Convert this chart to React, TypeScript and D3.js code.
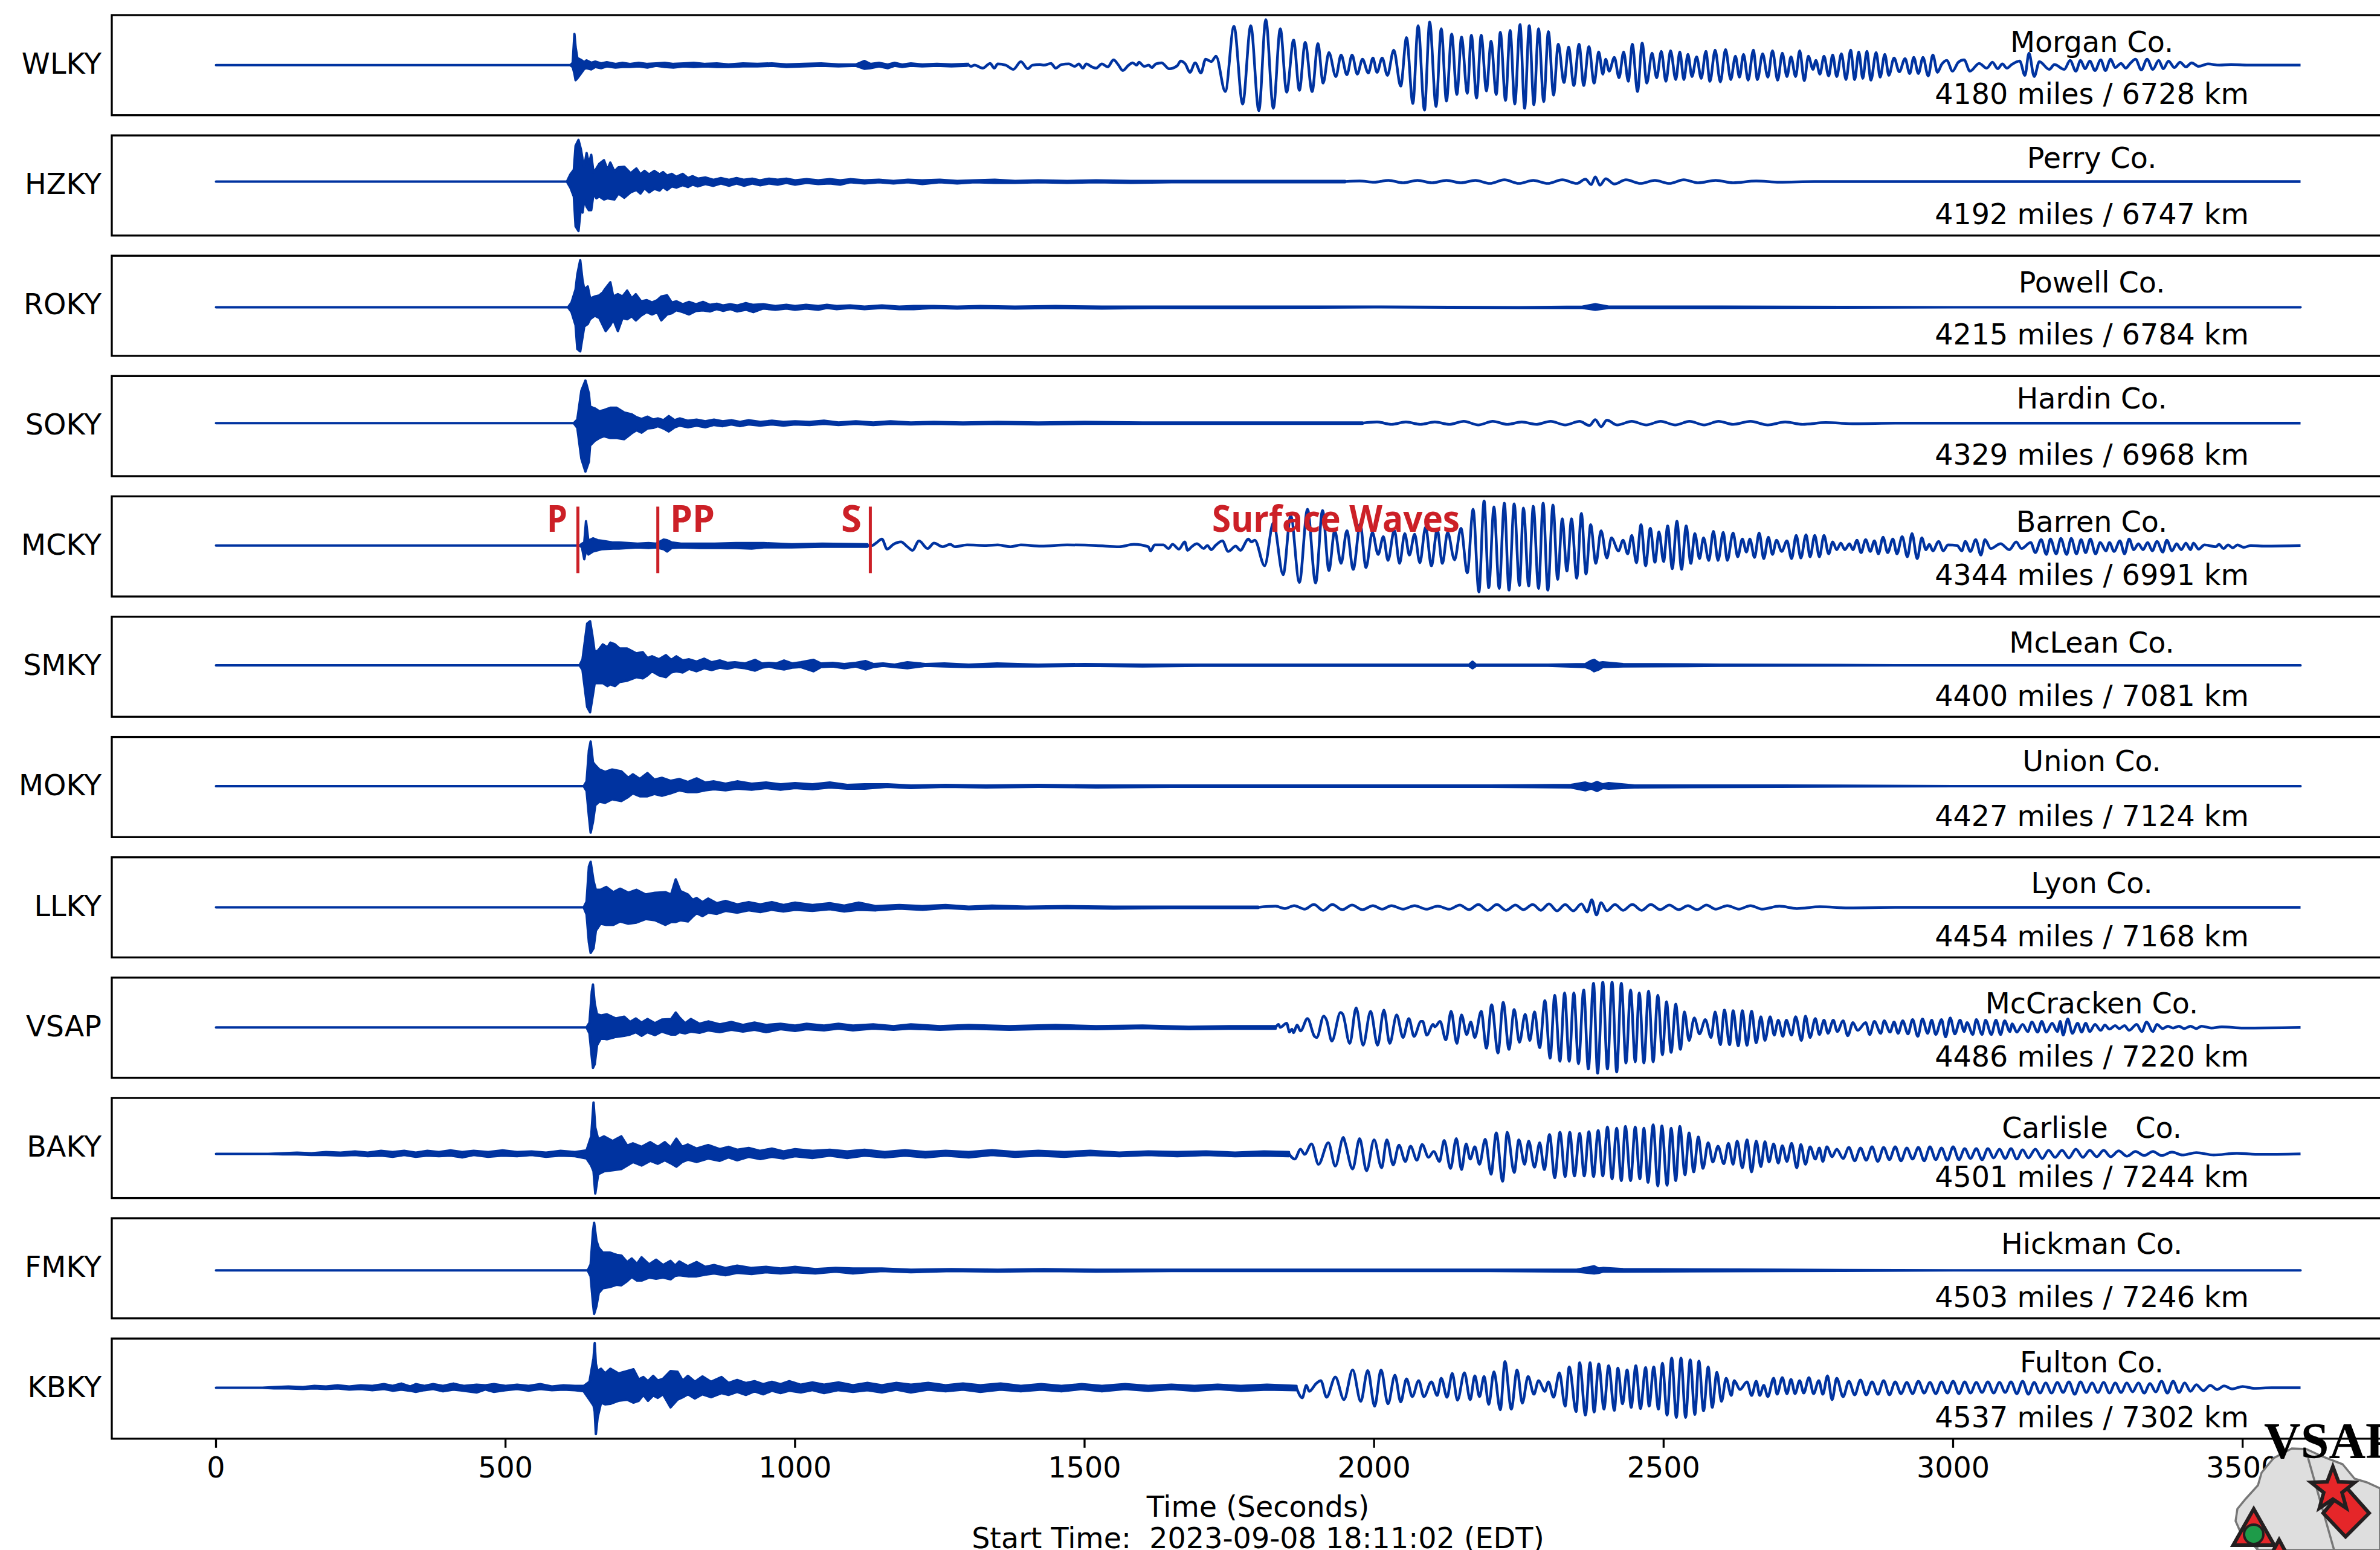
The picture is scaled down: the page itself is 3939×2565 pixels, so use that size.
import React from 'react';
import * as d3 from 'd3';

type Row = number[];

const stations = ["WLKY", "HZKY", "ROKY", "SOKY", "MCKY", "SMKY", "MOKY", "LLKY", "VSAP", "BAKY", "FMKY", "KBKY"];
const counties = ["Morgan Co.", "Perry Co.", "Powell Co.", "Hardin Co.", "Barren Co.", "McLean Co.", "Union Co.", "Lyon Co.", "McCracken Co.", "Carlisle   Co.", "Hickman Co.", "Fulton Co."];
const distances = ["4180 miles / 6728 km", "4192 miles / 6747 km", "4215 miles / 6784 km", "4329 miles / 6968 km", "4344 miles / 6991 km", "4400 miles / 7081 km", "4427 miles / 7124 km", "4454 miles / 7168 km", "4486 miles / 7220 km", "4501 miles / 7244 km", "4503 miles / 7246 km", "4537 miles / 7302 km"];
const xTicks = [0, 500, 1000, 1500, 2000, 2500, 3000, 3500];
const phases = [{ name: "P", t: 625 }, { name: "PP", t: 763 }, { name: "S", t: 1130 }];

// band = [time, upper, lower] envelope where the trace is too dense to see cycles
// wave = [time, value] peaks and troughs where the cycles can be read
const wlkyBand: Row[] = [[0,0,0],[612,0,0],[616,4,-3],[619,52,-14],[621,30,-25],[624,12,-22],[630,9,-14],[636,5,-6],[640,8,-5],[648,4,-7],[655,6,-3],[665,3,-5],[675,5,-2],[690,2,-4],[702,4,-3],[715,2,-3],[730,4,-2],[745,2,-4],[760,3,-1],[775,4,-3],[790,2,-4],[808,3,-2],[825,4,-3],[845,2,-2],[865,3,-3],[885,1,-3],[910,3,-2],[935,2,-2],[960,3,-1],[985,1,-3],[1015,2,-2],[1045,3,-1],[1075,1,-2],[1105,1,-1],[1120,7,-6],[1130,2,-5],[1145,4,-2],[1160,1,-5],[1172,4,-1],[1185,1,-3],[1200,3,-1],[1220,1,-2],[1245,2,-1],[1270,1,-2],[1297,2,-1]];
const wlkyWave: Row[] = [[1297,3],[1304,-2],[1310,0],[1324,-5],[1337,3],[1344,-5],[1350,2],[1364,0],[1377,-7],[1390,6],[1402,-6],[1410,0],[1423,1],[1430,0],[1442,3],[1450,-5],[1460,1],[1473,2],[1483,-2],[1490,2],[1497,-5],[1503,2],[1513,-3],[1520,-5],[1530,2],[1540,-3],[1550,9],[1558,1],[1566,-9],[1576,0],[1583,4],[1590,0],[1594,5],[1603,-2],[1611,0],[1616,-4],[1623,2],[1633,4],[1646,-6],[1660,-1],[1666,7],[1674,2],[1682,-12],[1691,4],[1701,-13],[1709,10],[1719,6],[1727,15],[1743,-44],[1758,65],[1773,-65],[1787,66],[1801,-76],[1813,76],[1826,-72],[1838,61],[1849,-45],[1861,42],[1871,-42],[1881,38],[1893,-44],[1903,36],[1912,-30],[1922,21],[1934,-19],[1943,17],[1953,-16],[1962,17],[1971,-15],[1980,10],[1990,-13],[1998,12],[2005,-12],[2014,12],[2023,-17],[2034,25],[2046,-35],[2056,46],[2067,-64],[2076,66],[2087,-75],[2096,72],[2107,-69],[2116,61],[2125,-60],[2134,52],[2143,-49],[2151,47],[2161,-47],[2168,50],[2177,-55],[2185,50],[2194,-43],[2202,40],[2211,-49],[2218,55],[2227,-59],[2235,58],[2243,-65],[2252,68],[2260,-72],[2268,66],[2276,-66],[2284,61],[2293,-61],[2301,56],[2310,-50],[2318,35],[2328,-29],[2336,30],[2345,-34],[2354,35],[2362,-34],[2371,31],[2380,-30],[2388,22],[2395,-15],[2400,10],[2406,-10],[2415,13],[2423,-21],[2431,22],[2439,-27],[2446,35],[2455,-44],[2463,37],[2471,-30],[2480,20],[2488,-21],[2496,23],[2504,-27],[2512,24],[2521,-24],[2528,22],[2535,-24],[2542,18],[2549,-19],[2557,14],[2565,-22],[2573,23],[2580,-27],[2589,25],[2598,-28],[2607,26],[2616,-24],[2624,15],[2631,-20],[2638,18],[2646,-25],[2655,25],[2662,-24],[2671,19],[2680,-20],[2688,24],[2697,-25],[2705,20],[2713,-19],[2720,14],[2728,-19],[2735,24],[2743,-26],[2750,15],[2758,-7],[2763,8],[2770,-15],[2777,15],[2785,-18],[2792,17],[2799,-19],[2807,19],[2815,-24],[2823,25],[2830,-24],[2837,22],[2844,-22],[2851,23],[2858,-25],[2867,21],[2874,-20],[2882,18],[2889,-17],[2898,12],[2907,-11],[2917,11],[2925,-14],[2932,13],[2940,-14],[2948,13],[2957,-18],[2965,17],[2973,-12],[2980,1],[2989,8],[2999,-10],[3009,5],[3019,9],[3029,-10],[3045,3],[3058,-5],[3068,5],[3077,-6],[3085,2],[3093,-5],[3101,1],[3115,7],[3124,-17],[3131,20],[3140,-19],[3149,6],[3166,-7],[3175,1],[3192,-7],[3202,8],[3212,-10],[3220,8],[3228,-6],[3236,7],[3245,-9],[3255,9],[3263,-9],[3272,10],[3280,-4],[3290,3],[3298,-5],[3305,2],[3315,10],[3325,-8],[3335,10],[3345,-7],[3355,8],[3363,-6],[3372,7],[3382,-4],[3392,5],[3402,-3],[3412,4],[3424,-2],[3440,2],[3460,0],[3480,1],[3510,0],[3600,0]];

const hzkyBand: Row[] = [[0,0,0],[606,0,0],[612,12,-10],[618,20,-25],[621,60,-75],[626,70,-83],[630,55,-45],[633,38,-52],[636,25,-30],[640,48,-42],[644,30,-48],[648,45,-48],[652,15,-20],[657,22,-28],[662,30,-25],[670,36,-30],[676,20,-28],[681,32,-29],[688,17,-30],[695,24,-20],[705,25,-27],[716,14,-18],[726,22,-14],[733,12,-20],[740,18,-11],[748,12,-18],[757,18,-12],[766,12,-15],[772,16,-9],[779,10,-14],[787,13,-8],[795,8,-10],[806,13,-6],[815,6,-9],[823,9,-5],[832,5,-8],[845,7,-4],[859,3,-7],[872,6,-3],[886,3,-7],[899,6,-3],[912,3,-7],[926,5,-3],[940,2,-6],[955,5,-3],[970,3,-5],[985,5,-2],[1000,2,-5],[1020,4,-2],[1040,2,-4],[1060,4,-3],[1078,2,-5],[1095,4,-1],[1120,2,-3],[1145,3,-1],[1170,1,-3],[1195,3,-1],[1220,2,-4],[1250,3,-1],[1280,1,-3],[1310,2,-1],[1345,3,-2],[1380,1,-2],[1420,2,-1],[1470,1,-2],[1520,2,-1],[1580,1,-2],[1650,1,-1],[1750,1,-1],[1850,1,-1],[1950,1,-1]];
const hzkyWave: Row[] = [[1950,0],[1975,1],[2000,-1],[2025,2],[2050,-2],[2075,2],[2100,-2],[2125,2],[2150,-2],[2175,2],[2200,-3],[2225,3],[2250,-3],[2275,2],[2300,-3],[2325,3],[2350,-3],[2365,4],[2375,-5],[2382,8],[2390,-6],[2400,5],[2415,-4],[2435,3],[2460,-3],[2485,2],[2510,-3],[2535,3],[2560,-2],[2590,2],[2620,-2],[2660,1],[2700,-1],[2760,0],[3600,0]];

const rokyBand: Row[] = [[0,0,0],[608,0,0],[614,8,-8],[621,30,-30],[624,55,-70],[629,79,-74],[633,45,-50],[636,30,-32],[642,35,-28],[646,15,-20],[654,18,-14],[662,20,-18],[668,25,-30],[673,32,-40],[681,42,-30],[686,18,-20],[694,22,-40],[702,18,-18],[710,28,-20],[718,15,-15],[725,22,-22],[734,10,-14],[744,12,-8],[753,8,-12],[762,12,-8],[769,18,-22],[779,20,-12],[787,8,-10],[795,10,-5],[806,5,-8],[817,9,-12],[829,5,-6],[841,9,-5],[853,4,-7],[865,6,-3],[876,3,-6],[888,5,-3],[900,3,-7],[915,7,-4],[928,4,-8],[945,5,-2],[966,2,-4],[985,4,-2],[1000,2,-4],[1019,4,-2],[1040,2,-4],[1055,4,-1],[1072,2,-3],[1095,3,-1],[1120,1,-3],[1150,3,-1],[1180,1,-3],[1205,2,-3],[1240,2,-1],[1280,1,-2],[1320,2,-1],[1380,1,-2],[1450,2,-1],[1530,1,-2],[1620,1,-1],[1800,1,-1],[2000,1,0],[2250,0,-1],[2360,1,-1],[2382,5,-4],[2405,1,-1],[2600,1,-1],[3000,0,0],[3600,0,0]];

const sokyBand: Row[] = [[0,0,0],[618,0,0],[624,6,-8],[631,55,-60],[638,72,-82],[644,50,-65],[646,28,-38],[654,25,-30],[662,20,-25],[670,22,-22],[681,26,-25],[692,26,-25],[705,18,-27],[718,15,-17],[726,10,-12],[735,7,-16],[745,11,-9],[755,6,-8],[763,8,-5],[773,5,-9],[782,12,-14],[792,5,-7],[801,8,-4],[815,4,-7],[830,6,-4],[845,3,-7],[860,6,-3],[875,3,-5],[890,5,-2],[905,2,-5],[920,5,-2],[940,2,-4],[960,4,-2],[980,2,-4],[1000,3,-2],[1025,2,-3],[1050,4,-1],[1075,1,-3],[1105,3,-1],[1135,1,-3],[1165,3,-1],[1200,1,-2],[1240,2,-1],[1290,1,-2],[1350,2,-1],[1420,1,-2],[1500,2,-1],[1600,1,-1],[1700,1,-1],[1850,1,-1],[1980,1,-1]];
const sokyWave: Row[] = [[1980,0],[2005,2],[2030,-2],[2055,2],[2080,-2],[2105,2],[2130,-2],[2155,3],[2180,-3],[2205,3],[2230,-2],[2255,2],[2280,-2],[2305,3],[2330,-3],[2355,3],[2372,-4],[2382,6],[2392,-6],[2402,5],[2420,-3],[2445,3],[2470,-3],[2495,3],[2520,-3],[2545,3],[2570,-3],[2595,3],[2620,-2],[2650,3],[2680,-3],[2710,2],[2740,-2],[2780,1],[2830,-1],[2900,0],[3600,0]];

const mckyBand: Row[] = [[0,0,0],[628,0,0],[632,3,-3],[636,5,-23],[639,41,-8],[643,8,-15],[651,12,-10],[659,9,-8],[667,8,-6],[686,5,-5],[696,5,-5],[728,3,-3],[747,4,-4],[760,3,-3],[773,10,-6],[779,9,-10],[787,5,-4],[803,3,-3],[835,3,-4],[861,3,-4],[898,4,-4],[925,4,-5],[946,4,-3],[994,2,-3],[1047,3,-2],[1125,2,-2]];
const mckyWave: Row[] = [[1125,0],[1133,0],[1141,5],[1150,11],[1159,-6],[1170,2],[1183,6],[1194,-2],[1203,-8],[1214,8],[1229,-5],[1240,4],[1255,-2],[1268,2],[1276,-2],[1297,1],[1330,0],[1350,1],[1372,-2],[1390,1],[1425,-1],[1470,1],[1520,0],[1560,-2],[1585,2],[1610,-2],[1614,-9],[1621,1],[1629,1],[1636,1],[1645,-5],[1652,2],[1663,-6],[1673,6],[1678,-8],[1685,-2],[1694,3],[1706,-5],[1712,0],[1719,-7],[1726,0],[1738,8],[1748,-10],[1761,-1],[1769,-8],[1783,11],[1788,6],[1794,9],[1811,-34],[1826,38],[1843,-49],[1856,50],[1871,-62],[1885,61],[1899,-63],[1911,59],[1922,-42],[1932,25],[1943,-30],[1953,25],[1964,-40],[1976,36],[1986,-37],[1997,22],[2007,-15],[2016,15],[2024,-25],[2035,26],[2044,-30],[2053,20],[2061,-16],[2070,19],[2079,-29],[2089,31],[2099,-34],[2109,27],[2118,-30],[2127,22],[2139,-24],[2150,29],[2161,-46],[2171,61],[2181,-78],[2190,75],[2198,-71],[2207,65],[2216,-72],[2225,71],[2233,-75],[2242,70],[2251,-67],[2258,63],[2267,-68],[2275,66],[2284,-72],[2292,71],[2300,-75],[2309,68],[2317,-57],[2325,45],[2333,-43],[2341,45],[2350,-55],[2358,54],[2366,-48],[2374,35],[2383,-30],[2392,25],[2402,-21],[2410,13],[2422,-9],[2430,9],[2438,-14],[2445,17],[2453,-29],[2461,35],[2469,-34],[2477,29],[2485,-28],[2492,23],[2500,-27],[2507,33],[2515,-39],[2523,41],[2531,-40],[2539,33],[2547,-30],[2554,20],[2562,-22],[2569,13],[2578,-25],[2586,24],[2594,-25],[2603,22],[2610,-25],[2620,21],[2628,-19],[2636,11],[2643,-11],[2649,11],[2657,-20],[2665,21],[2673,-22],[2681,14],[2688,-15],[2695,9],[2704,-10],[2713,8],[2721,-22],[2729,17],[2737,-21],[2746,18],[2753,-19],[2761,17],[2769,-19],[2777,17],[2785,-14],[2792,6],[2799,-7],[2806,4],[2813,-7],[2821,3],[2827,-7],[2834,9],[2841,-12],[2849,10],[2857,-10],[2864,8],[2871,-14],[2879,14],[2887,-12],[2896,11],[2903,-14],[2912,15],[2921,-19],[2929,20],[2938,-22],[2946,13],[2953,-7],[2959,2],[2965,-9],[2975,7],[2983,-9],[2991,1],[3007,0],[3015,-9],[3021,7],[3030,-10],[3039,10],[3048,-16],[3055,10],[3065,-5],[3082,3],[3097,-7],[3109,6],[3118,-5],[3134,5],[3142,-12],[3152,10],[3161,-15],[3168,11],[3178,-14],[3186,12],[3196,-15],[3204,12],[3213,-14],[3221,10],[3229,-12],[3237,11],[3246,-14],[3254,5],[3264,-9],[3270,5],[3278,-10],[3288,8],[3296,-14],[3304,11],[3312,-7],[3320,3],[3328,-7],[3336,5],[3344,-9],[3352,7],[3362,-11],[3369,9],[3378,-9],[3386,3],[3394,-7],[3402,4],[3410,-7],[3415,4],[3424,-6],[3434,1],[3454,-2],[3459,2],[3467,-5],[3475,1],[3483,-4],[3491,1],[3502,-3],[3514,0],[3538,-1],[3600,0]];

const smkyBand: Row[] = [[0,0,0],[628,0,0],[633,10,-8],[641,70,-70],[646,74,-79],[650,50,-55],[654,22,-30],[660,25,-30],[668,35,-30],[676,30,-35],[681,38,-32],[689,35,-35],[697,28,-28],[710,28,-26],[726,20,-20],[737,22,-22],[745,12,-17],[753,15,-10],[765,10,-17],[777,17,-20],[786,9,-12],[795,15,-10],[806,8,-12],[817,10,-6],[830,6,-10],[843,11,-5],[856,5,-8],[870,8,-4],[883,4,-6],[896,5,-3],[914,3,-5],[931,9,-9],[943,3,-4],[955,4,-2],[968,3,-5],[981,8,-7],[995,3,-4],[1010,5,-3],[1032,9,-10],[1045,3,-3],[1065,4,-2],[1085,2,-5],[1105,4,-2],[1122,7,-7],[1135,2,-3],[1152,3,-1],[1172,1,-3],[1194,5,-5],[1225,2,-1],[1258,3,-2],[1300,1,-3],[1349,3,-2],[1420,1,-2],[1500,2,-1],[1600,1,-2],[1700,1,-1],[1900,1,-1],[2100,1,-1],[2164,1,-1],[2170,6,-5],[2176,1,-1],[2300,1,-1],[2365,2,-3],[2374,7,-6],[2380,9,-10],[2388,4,-7],[2395,5,-3],[2430,2,-2],[2600,1,-1],[2900,0,0],[3600,0,0]];

const mokyBand: Row[] = [[0,0,0],[635,0,0],[640,8,-8],[644,60,-50],[647,75,-78],[651,40,-60],[655,35,-32],[662,28,-26],[672,24,-28],[684,28,-22],[700,25,-25],[712,14,-18],[720,20,-12],[732,12,-17],[745,22,-17],[757,11,-13],[770,14,-16],[785,9,-12],[800,12,-7],[815,7,-10],[830,13,-10],[845,6,-7],[860,8,-5],[880,4,-7],[900,8,-4],[925,4,-6],[950,6,-3],[975,3,-6],[1000,5,-3],[1030,3,-5],[1060,6,-2],[1090,2,-4],[1120,3,-4],[1160,3,-1],[1200,1,-3],[1260,2,-1],[1330,1,-2],[1420,2,-1],[1520,1,-2],[1650,1,-1],[1800,1,-1],[2000,1,-1],[2200,1,-1],[2340,2,-2],[2365,6,-7],[2375,3,-4],[2385,7,-8],[2395,3,-3],[2405,5,-4],[2450,1,-2],[2700,1,-1],[3000,0,0],[3600,0,0]];

const llkyBand: Row[] = [[0,0,0],[635,0,0],[640,10,-12],[644,70,-60],[647,78,-78],[652,45,-70],[656,30,-40],[664,30,-28],[674,35,-30],[686,26,-30],[698,32,-24],[712,25,-28],[726,30,-26],[742,22,-20],[758,25,-22],[776,26,-30],[786,22,-25],[794,48,-25],[802,28,-22],[815,22,-24],[823,13,-16],[830,16,-10],[840,9,-15],[850,15,-9],[865,7,-11],[880,11,-6],[900,5,-9],[920,9,-5],[940,5,-8],[960,9,-4],[980,4,-7],[1000,8,-4],[1030,4,-6],[1060,7,-3],[1085,3,-7],[1110,8,-4],[1140,2,-5],[1180,4,-2],[1220,2,-4],[1260,4,-1],[1300,1,-3],[1340,3,-2],[1400,1,-2],[1470,2,-1],[1550,1,-2],[1650,1,-1],[1800,1,-1]];
const llkyWave: Row[] = [[1800,0],[1830,2],[1846,-2],[1862,3],[1880,-3],[1896,5],[1912,-5],[1928,5],[1945,-4],[1962,4],[1980,-4],[1998,3],[2014,-3],[2030,3],[2050,-3],[2070,3],[2090,-3],[2110,2],[2130,-3],[2148,4],[2164,-4],[2180,5],[2196,-5],[2212,5],[2228,-5],[2244,4],[2258,-4],[2274,5],[2288,-5],[2302,6],[2316,-6],[2330,5],[2344,-6],[2358,6],[2368,-8],[2376,13],[2384,-13],[2392,8],[2402,-6],[2416,5],[2430,-5],[2446,5],[2462,-5],[2478,5],[2494,-4],[2510,4],[2526,-4],[2542,3],[2558,-4],[2574,4],[2590,-3],[2610,3],[2630,-3],[2650,3],[2670,-3],[2700,2],[2730,-2],[2770,1],[2820,-1],[2900,0],[3600,0]];

const vsapBand: Row[] = [[0,0,0],[640,0,0],[645,8,-10],[649,60,-50],[651,72,-68],[654,40,-62],[658,22,-30],[665,20,-18],[675,22,-20],[690,15,-16],[705,18,-14],[715,9,-12],[725,15,-8],[735,8,-14],[745,14,-8],[758,7,-13],[770,13,-7],[786,14,-12],[794,25,-12],[800,17,-8],[810,7,-10],[820,14,-7],[835,6,-9],[850,10,-5],[870,5,-8],[890,9,-4],[910,4,-7],[930,8,-4],[950,4,-8],[975,6,-3],[1000,3,-6],[1020,6,-3],[1050,3,-5],[1075,6,-2],[1100,3,-5],[1135,5,-2],[1170,2,-4],[1200,5,-2],[1250,2,-4],[1300,4,-2],[1370,2,-4],[1450,4,-2],[1520,2,-3],[1600,3,-1],[1680,1,-3],[1750,2,-2],[1830,2,-2]];
const vsapWave: Row[] = [[1830,0],[1835,5],[1838,0],[1849,7],[1854,-8],[1858,-3],[1861,-9],[1867,4],[1873,-6],[1885,15],[1897,-15],[1901,-17],[1913,19],[1918,12],[1927,-23],[1942,25],[1946,22],[1958,-27],[1969,33],[1981,-30],[1994,27],[2006,-30],[2017,29],[2027,-27],[2039,21],[2050,-17],[2060,15],[2069,-15],[2081,10],[2084,10],[2091,-13],[2102,5],[2105,1],[2114,10],[2124,-21],[2133,27],[2143,-27],[2151,21],[2160,-12],[2167,9],[2174,-17],[2185,27],[2194,-35],[2203,38],[2214,-43],[2223,42],[2233,-37],[2242,30],[2251,-25],[2261,22],[2269,-22],[2277,26],[2286,-34],[2295,45],[2304,-52],[2312,54],[2321,-57],[2329,58],[2337,-57],[2345,58],[2353,-61],[2362,63],[2370,-70],[2379,74],[2386,-77],[2395,76],[2403,-70],[2411,76],[2419,-75],[2427,74],[2435,-60],[2443,63],[2451,-58],[2458,58],[2466,-60],[2474,61],[2482,-58],[2490,54],[2498,-46],[2505,43],[2513,-42],[2521,39],[2529,-37],[2536,26],[2544,-22],[2553,16],[2562,-11],[2572,13],[2582,-17],[2589,26],[2598,-29],[2605,29],[2614,-29],[2620,28],[2629,-31],[2636,28],[2644,-30],[2652,27],[2660,-26],[2668,18],[2675,-22],[2684,18],[2691,-13],[2698,12],[2706,-15],[2712,12],[2721,-13],[2728,18],[2738,-22],[2745,19],[2753,-17],[2762,15],[2769,-12],[2777,12],[2784,-10],[2793,12],[2800,-7],[2810,11],[2818,-14],[2827,8],[2835,-5],[2849,8],[2856,-12],[2864,10],[2875,-10],[2881,11],[2891,-8],[2898,9],[2905,-10],[2913,11],[2922,-11],[2930,13],[2939,-15],[2947,14],[2956,-10],[2963,12],[2970,-12],[2980,13],[2987,-16],[2995,16],[3003,-11],[3012,12],[3019,-7],[3024,8],[3034,-12],[3040,13],[3050,-12],[3056,12],[3066,-12],[3074,12],[3082,-12],[3089,11],[3098,-7],[3102,6],[3110,-8],[3120,5],[3129,-7],[3136,9],[3146,-8],[3153,10],[3161,-8],[3171,7],[3180,-7],[3185,10],[3190,-13],[3198,14],[3206,-10],[3215,7],[3222,-8],[3229,7],[3236,-7],[3245,5],[3255,-5],[3262,4],[3270,-3],[3280,3],[3287,-2],[3296,3],[3304,-5],[3317,5],[3326,-7],[3334,9],[3345,-7],[3352,5],[3362,-2],[3371,2],[3380,-1],[3390,2],[3399,-2],[3410,2],[3420,-2],[3429,2],[3446,-1],[3464,1],[3501,-1],[3600,0]];

const bakyBand: Row[] = [[0,0,0],[90,0,0],[115,1,-1],[140,2,-1],[165,1,-2],[190,3,-2],[215,2,-3],[240,4,-2],[262,2,-4],[285,5,-3],[305,3,-5],[325,5,-2],[345,2,-5],[365,5,-3],[385,3,-4],[405,6,-3],[425,3,-6],[445,5,-2],[470,3,-5],[495,6,-3],[520,3,-4],[545,4,-2],[570,2,-5],[595,5,-3],[620,3,-4],[640,6,-8],[648,30,-20],[652,88,-30],[655,45,-68],[660,25,-35],[670,30,-30],[685,22,-28],[700,30,-26],[710,14,-20],[720,18,-14],[735,12,-20],[750,20,-12],[763,12,-17],[775,20,-11],[785,11,-16],[795,26,-22],[805,12,-14],[815,16,-10],[830,9,-14],[850,15,-8],[870,8,-12],[885,12,-6],[900,7,-11],[920,10,-5],[940,5,-9],[960,9,-5],[980,4,-8],[1000,8,-4],[1030,5,-7],[1060,7,-3],[1090,4,-7],[1120,7,-3],[1155,3,-6],[1190,6,-3],[1225,3,-6],[1260,5,-3],[1300,3,-6],[1340,6,-2],[1380,3,-5],[1420,5,-3],[1465,3,-5],[1510,5,-2],[1560,2,-4],[1610,4,-2],[1660,3,-4],[1710,4,-2],[1760,2,-4],[1810,4,-3],[1853,3,-4]];
const bakyWave: Row[] = [[1853,0],[1863,-9],[1873,8],[1880,-1],[1892,17],[1904,-18],[1921,19],[1933,-21],[1947,28],[1950,19],[1963,-26],[1975,26],[1987,-29],[2000,24],[2013,-24],[2022,24],[2033,-19],[2043,15],[2054,-13],[2063,13],[2074,-11],[2083,16],[2094,-6],[2103,4],[2113,-13],[2121,23],[2132,-25],[2142,26],[2151,-27],[2159,17],[2166,-9],[2174,12],[2182,-18],[2192,25],[2202,-35],[2211,36],[2222,-47],[2230,37],[2242,-32],[2250,24],[2260,-18],[2267,22],[2277,-23],[2286,19],[2294,-27],[2303,33],[2312,-41],[2321,37],[2330,-39],[2338,37],[2346,-38],[2355,35],[2363,-38],[2371,38],[2379,-39],[2387,40],[2395,-38],[2403,46],[2411,-43],[2419,44],[2427,-46],[2434,47],[2443,-46],[2451,46],[2459,-43],[2466,44],[2473,-49],[2482,50],[2490,-55],[2497,48],[2506,-54],[2513,44],[2521,-46],[2528,47],[2537,-36],[2544,36],[2552,-31],[2560,29],[2568,-25],[2577,19],[2585,-14],[2594,13],[2604,-17],[2612,18],[2620,-18],[2627,22],[2636,-24],[2644,24],[2652,-31],[2660,22],[2668,-22],[2675,21],[2682,-14],[2690,17],[2698,-16],[2705,14],[2713,-13],[2721,18],[2730,-24],[2737,16],[2745,-18],[2753,12],[2762,-9],[2769,10],[2775,-13],[2782,12],[2791,-5],[2799,8],[2810,-8],[2820,11],[2830,-12],[2840,10],[2850,-11],[2860,12],[2870,-13],[2880,11],[2890,-10],[2900,12],[2910,-12],[2920,10],[2930,-9],[2940,11],[2950,-12],[2960,12],[2970,-10],[2980,10],[2990,-11],[3000,12],[3010,-10],[3020,9],[3030,-8],[3040,9],[3050,-10],[3060,9],[3070,-7],[3080,8],[3090,-8],[3100,9],[3110,-9],[3120,7],[3130,-7],[3142,8],[3154,-8],[3165,6],[3176,-6],[3188,6],[3200,-7],[3212,8],[3224,-6],[3236,6],[3248,-5],[3260,6],[3272,-5],[3286,5],[3300,-4],[3315,4],[3330,-3],[3345,4],[3360,-3],[3378,3],[3396,-2],[3420,2],[3450,-2],[3490,1],[3530,-1],[3600,0]];

const fmkyBand: Row[] = [[0,0,0],[642,0,0],[647,10,-10],[651,65,-55],[653,80,-73],[657,50,-60],[661,38,-38],[668,30,-30],[680,30,-28],[692,26,-24],[700,25,-25],[710,14,-18],[718,20,-11],[727,11,-17],[735,22,-17],[748,10,-12],[760,18,-14],[772,9,-12],[785,16,-15],[793,8,-9],[800,15,-8],[815,7,-10],[830,14,-10],[845,6,-7],[860,9,-5],[880,4,-8],[900,8,-4],[925,4,-6],[950,6,-3],[975,3,-5],[1000,6,-3],[1035,2,-5],[1070,4,-2],[1100,3,-5],[1150,3,-1],[1200,1,-3],[1270,2,-1],[1350,1,-2],[1430,2,-1],[1520,1,-2],[1650,1,-1],[1800,1,-1],[2000,1,-1],[2200,1,-1],[2350,1,-2],[2370,5,-4],[2380,7,-5],[2388,3,-4],[2395,4,-2],[2430,2,-2],[2700,1,-1],[3000,0,0],[3600,0,0]];

const kbkyBand: Row[] = [[0,0,0],[80,0,0],[100,1,-1],[125,2,-1],[150,1,-2],[170,3,-1],[190,2,-2],[210,4,-1],[230,2,-3],[250,4,-2],[270,3,-4],[290,6,-2],[305,3,-5],[320,7,-3],[335,2,-5],[345,6,-7],[360,3,-4],[375,6,-2],[392,3,-6],[410,7,-3],[428,3,-5],[450,5,-8],[465,4,-3],[480,6,-7],[500,3,-4],[520,5,-2],[540,3,-5],[560,6,-2],[580,2,-4],[600,4,-3],[620,3,-4],[635,3,-6],[645,10,-20],[652,50,-30],[654,75,-40],[656,40,-78],[659,28,-50],[665,32,-25],[672,24,-28],[681,32,-27],[695,24,-22],[710,28,-20],[721,31,-25],[730,14,-22],[738,18,-12],[746,11,-22],[755,20,-13],[763,12,-17],[772,15,-11],[785,28,-33],[797,27,-20],[806,12,-16],[815,20,-11],[827,10,-18],[840,19,-11],[855,10,-16],[873,18,-9],[885,8,-12],[900,13,-7],[915,8,-12],[930,11,-6],[945,6,-11],[960,10,-5],[975,6,-9],[990,11,-5],[1010,5,-8],[1030,9,-4],[1050,5,-9],[1075,9,-4],[1100,4,-7],[1125,8,-4],[1150,4,-8],[1175,8,-3],[1200,5,-8],[1230,8,-3],[1260,4,-6],[1290,7,-3],[1320,4,-7],[1355,7,-3],[1390,3,-6],[1425,6,-3],[1460,3,-6],[1495,6,-2],[1530,3,-6],[1570,6,-2],[1610,3,-5],[1650,5,-2],[1690,3,-5],[1730,5,-2],[1770,3,-5],[1815,5,-3],[1866,3,-4]];
const kbkyWave: Row[] = [[1866,0],[1876,-17],[1883,4],[1888,-6],[1900,7],[1908,12],[1918,-16],[1933,18],[1948,-20],[1963,30],[1977,-23],[1989,29],[2001,-31],[2012,30],[2024,-27],[2036,21],[2046,-24],[2056,15],[2066,-15],[2077,12],[2086,-15],[2099,10],[2109,-13],[2116,16],[2126,-16],[2135,24],[2144,-21],[2156,25],[2166,-20],[2174,20],[2182,-15],[2190,19],[2198,-28],[2207,27],[2218,-37],[2226,44],[2237,-36],[2247,30],[2256,-26],[2266,19],[2276,-11],[2284,12],[2295,-6],[2301,10],[2310,-16],[2320,25],[2330,-31],[2337,35],[2349,-40],[2355,42],[2365,-46],[2373,42],[2380,-41],[2388,40],[2397,-36],[2405,37],[2415,-38],[2421,33],[2429,-27],[2437,30],[2444,-33],[2452,37],[2460,-35],[2469,34],[2475,-31],[2483,35],[2491,-36],[2498,41],[2506,-46],[2514,50],[2522,-50],[2530,50],[2538,-50],[2546,47],[2554,-45],[2561,45],[2569,-39],[2577,35],[2584,-33],[2592,26],[2600,-23],[2608,16],[2617,-13],[2622,12],[2632,-3],[2644,10],[2652,-13],[2660,11],[2666,-13],[2673,4],[2680,-15],[2690,16],[2696,-11],[2705,17],[2713,-10],[2720,14],[2727,-10],[2735,12],[2742,-9],[2751,17],[2759,-10],[2768,12],[2775,-11],[2783,20],[2791,-20],[2799,16],[2810,-15],[2820,11],[2830,-12],[2840,13],[2850,-12],[2860,10],[2870,-11],[2880,12],[2890,-12],[2900,10],[2910,-10],[2920,9],[2930,-10],[2940,11],[2950,-9],[2960,9],[2970,-10],[2980,10],[2990,-9],[3000,11],[3010,-10],[3020,10],[3030,-9],[3040,9],[3050,-8],[3060,10],[3070,-9],[3080,9],[3090,-8],[3100,10],[3110,-10],[3120,11],[3130,-11],[3140,9],[3150,-9],[3160,8],[3170,-9],[3180,9],[3190,-8],[3200,10],[3210,-11],[3220,10],[3230,-8],[3240,8],[3250,-8],[3260,9],[3270,-9],[3280,8],[3290,-8],[3300,8],[3310,-7],[3320,8],[3330,-9],[3340,7],[3350,-7],[3360,11],[3370,-9],[3380,11],[3390,-8],[3400,8],[3410,-6],[3420,5],[3432,-5],[3444,4],[3456,-3],[3468,3],[3482,-2],[3500,2],[3520,-1],[3550,0],[3600,0]];

const bands: Row[][] = [wlkyBand, hzkyBand, rokyBand, sokyBand, mckyBand, smkyBand, mokyBand, llkyBand, vsapBand, bakyBand, fmkyBand, kbkyBand];
const waves: Row[][] = [wlkyWave, hzkyWave, [], sokyWave, mckyWave, [], [], llkyWave, vsapWave, bakyWave, [], kbkyWave];

const W = 3939;
const H = 2565;
const panelH = 165.7;
const panelStep = 199.1;
const panelTop0 = 25;
const blue = "#0033a0";
const red = "#cc2027";
const tickFont = 47.6;
const labelDy = [45, 38, 45, 38, 43, 43, 40, 43, 43, 50, 43, 40];

const x = d3.scaleLinear().domain([-180, 3780]).range([185, 3980]);

const makeBand = d3.area<Row>().x(d => x(d[0]));
const makeWave = d3.line<Row>().x(d => x(d[0])).curve(d3.curveMonotoneX);

function Trace({ i }: { i: number }) {
  const band = bands[i];
  const wave = waves[i];
  const top = panelTop0 + i * panelStep;
  const hi = Math.max(d3.max(band, d => d[1]) as number, d3.max(wave, d => d[1]) ?? 0);
  const lo = Math.min(d3.min(band, d => d[2]) as number, d3.min(wave, d => d[1]) ?? 0);
  const pad = (hi - lo) * 0.05;
  const y = d3.scaleLinear().domain([lo - pad, hi + pad]).range([top + panelH, top]);
  const bandPath = makeBand.y0(d => y(d[2])).y1(d => y(d[1]))(band) as string;
  const wavePath = wave.length ? (makeWave.y(d => y(d[1]))(wave) as string) : "";
  return (
    <g>
      <path d={bandPath} fill={blue} stroke={blue} strokeWidth={4} strokeLinejoin="round" />
      {wave.length > 0 && <path d={wavePath} fill="none" stroke={blue} strokeWidth={4.5} strokeLinejoin="round" />}
      <rect x={185} y={top} width={3795} height={panelH} fill="none" stroke="#000" strokeWidth={3.3} />
      <text x={168} y={top + panelH / 2 + 14} textAnchor="end" fontSize={tickFont}>{stations[i]}</text>
      <text x={3462} y={top + labelDy[i] + 16} textAnchor="middle" fontSize={tickFont} style={{ whiteSpace: "pre" }}>{counties[i]}</text>
      <text x={3462} y={top + 147} textAnchor="middle" fontSize={tickFont}>{distances[i]}</text>
    </g>
  );
}

function starPoints(cx: number, cy: number, r: number) {
  return d3.range(10).map(k => {
    const a = -Math.PI / 2 + k * Math.PI / 5;
    const rr = k % 2 ? r * 0.42 : r;
    return `${cx + rr * Math.cos(a)},${cy + rr * Math.sin(a)}`;
  }).join(" ");
}

// the station map logo in the lower right corner
function Logo() {
  const outline = "M3700,2517 L3703,2497 L3717,2480 L3737,2458 L3743,2437 L3763,2413 L3793,2397 L3817,2398 L3843,2410 L3877,2423 L3897,2447 L3917,2453 L3939,2463 L3939,2565 L3737,2565 L3707,2533 Z";
  const ink = "#231f20";
  return (
    <g>
      <path d={outline} fill="#dedede" stroke="#777" strokeWidth={3.5} />
      <path d="M3820,2413 L3863,2565" fill="none" stroke="#777" strokeWidth={3.5} />
      <path d="M3736,2565 L3736,2545" fill="none" stroke="#777" strokeWidth={3.5} />
      <polygon points="3882,2460 3921,2504 3882,2543 3845,2504" fill="#e52629" stroke={ink} strokeWidth={6} />
      <polygon points={starPoints(3861, 2465, 38)} fill="#e52629" stroke={ink} strokeWidth={6} />
      <polygon points="3730,2497 3764,2557 3696,2557" fill="#e52629" stroke={ink} strokeWidth={6} />
      <circle cx={3730} cy={2539} r={16} fill="#1e9b49" stroke={ink} strokeWidth={4} />
      <polygon points="3772,2548 3800,2600 3744,2600" fill="#e52629" stroke={ink} strokeWidth={6} />
      <text x={3747} y={2413} fontFamily="'Liberation Serif', serif" fontWeight="bold" fontSize={84} fill="#000">VSAP</text>
    </g>
  );
}

export default function App() {
  const mcTop = panelTop0 + 4 * panelStep;
  const bottom = panelTop0 + 11 * panelStep + panelH;
  const annotFont = "'Open Sans', sans-serif";
  return (
    <svg
      width={W}
      height={H}
      viewBox={`0 0 ${W} ${H}`}
      style={{ position: "absolute", left: 0, top: 0, background: "#fff", fontFamily: "'DejaVu Sans', sans-serif" }}
    >
      {stations.map((s, i) => <Trace key={s} i={i} />)}

      {xTicks.map(t => (
        <g key={t}>
          <line x1={x(t)} x2={x(t)} y1={bottom} y2={bottom + 15} stroke="#000" strokeWidth={3.3} />
          <text x={x(t)} y={bottom + 64} textAnchor="middle" fontSize={tickFont}>{t}</text>
        </g>
      ))}
      <text x={2082} y={2510} textAnchor="middle" fontSize={tickFont}>Time (Seconds)</text>
      <text x={2082} y={2562} textAnchor="middle" fontSize={tickFont} style={{ whiteSpace: "pre" }}>{"Start Time:  2023-09-08 18:11:02 (EDT)"}</text>

      {phases.map(p => (
        <line key={p.name} x1={x(p.t)} x2={x(p.t)} y1={mcTop + 17} y2={mcTop + 127} stroke={red} strokeWidth={5} />
      ))}
      <g fill={red} fontFamily={annotFont} fontWeight="bold" fontSize={60}>
        <text x={905} y={880} textLength={34} lengthAdjust="spacingAndGlyphs">P</text>
        <text x={1109} y={880} textLength={74} lengthAdjust="spacingAndGlyphs">PP</text>
        <text x={1392} y={880} textLength={34} lengthAdjust="spacingAndGlyphs">S</text>
        <text x={2006} y={880} textLength={410} lengthAdjust="spacingAndGlyphs">Surface Waves</text>
      </g>

      <Logo />
    </svg>
  );
}
